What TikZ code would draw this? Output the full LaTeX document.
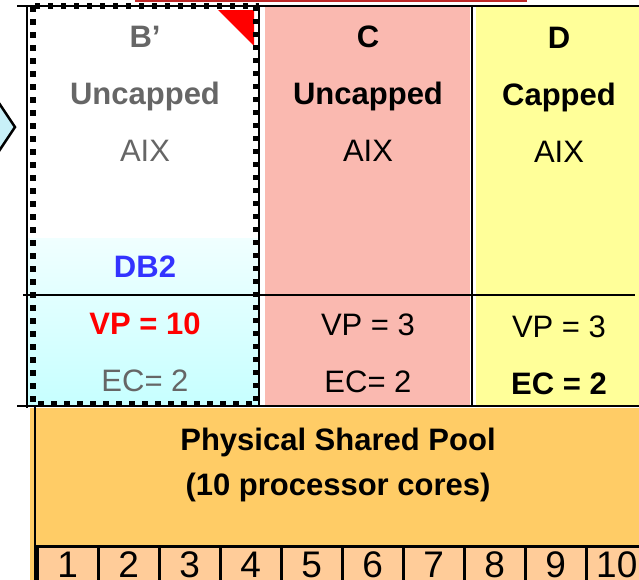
\documentclass[tikz,border=0pt]{standalone}
\usepackage{fontspec}
\setmainfont{Liberation Sans}
\usetikzlibrary{positioning}
\definecolor{salmon}{RGB}{250,185,176}
\definecolor{lemon}{RGB}{255,255,153}
\definecolor{pool}{RGB}{255,204,102}
\definecolor{peach}{RGB}{255,204,153}
\definecolor{greytxt}{RGB}{102,102,102}
\definecolor{dbblue}{RGB}{51,51,255}
\definecolor{darkred}{RGB}{190,40,40}
\definecolor{arrowcyan}{RGB}{200,240,248}

\begin{document}
\begin{tikzpicture}[x=1pt, y=-1pt, node distance=57pt, line width=2.5pt,
	txt/.style = {font=\fontsize{31}{31}\selectfont, inner sep=0pt, text height=22pt, text depth=7pt},
	hd/.style = {txt, font=\fontsize{31}{31}\selectfont\bfseries},
	core/.style = {draw, fill=peach, anchor=north west, inner sep=0pt, minimum width=61pt, minimum height=38pt, text height=27pt, text depth=2pt, font=\fontsize{37}{37}\selectfont},
	dotbox/.style = {line width=5.5pt, dash pattern=on 5.5pt off 7.5pt}]
		\useasboundingbox (0,0) rectangle (639,579);
		
		\draw[darkred, line width=2pt] (135,1) -- (527,1);
		\draw[fill=arrowcyan] (-5,97) -- (15,127) -- (-5,157);
		
		\shade[top color={rgb,255:red,240;green,255;blue,255}, bottom color={rgb,255:red,198;green,255;blue,255}] (28,238) rectangle (258,406);
		\fill[salmon] (265,6) rectangle (470,406);
		\fill[lemon] (476,6) rectangle (645,406);
		
		\fill[pool] (30,408) rectangle (645,585);
		\draw (35,406) -- (35,585);
		\foreach \i in {1,...,10}
			\node[core] (core\i) at ({36+61*(\i-1)},545) {\i};
		
		\draw (17,6) -- (639,6);
		\draw (27,6) -- (27,408);
		\draw (23,295) -- (635,295);
		\draw (17,406) -- (639,406);
		\draw (259,6) -- (259,406);
		\draw (472,6) -- (472,406);
		
		\fill[red] (218,10) -- (254,10) -- (254,46) -- cycle;
		\draw[dotbox] (33,6) rectangle (256,404);
		
		\node[hd, greytxt, anchor=base] (bName) at (145,47) {B’};
		\node[hd, greytxt] (bCap) [below of=bName] {Uncapped};
		\node[txt, greytxt] (bOs) [below of=bCap] {AIX};
		\node[hd, dbblue, anchor=base] (bApp) at (145,277) {DB2};
		\node[hd, red] (bVp) [below of=bApp] {VP = 10};
		\node[txt, greytxt] (bEc) [below of=bVp] {EC= 2};
		
		\node[hd, anchor=base] (cName) at (368,47) {C};
		\node[hd] (cCap) [below of=cName] {Uncapped};
		\node[txt] (cOs) [below of=cCap] {AIX};
		\node[txt, anchor=base] (cVp) at (368,335) {VP = 3};
		\node[txt] (cEc) [below of=cVp] {EC= 2};
		
		\node[hd, anchor=base] (dName) at (559,48) {D};
		\node[hd] (dCap) [below of=dName] {Capped};
		\node[txt] (dOs) [below of=dCap] {AIX};
		\node[txt, anchor=base] (dVp) at (559,337) {VP = 3};
		\node[hd] (dEc) [below of=dVp] {EC = 2};
		
		\node[hd, anchor=base] (poolTitle) at (338,450) {Physical Shared Pool};
		\node[hd, node distance=45pt] (poolCores) [below of=poolTitle] {(10 processor cores)};
	\end{tikzpicture}
\end{document}
